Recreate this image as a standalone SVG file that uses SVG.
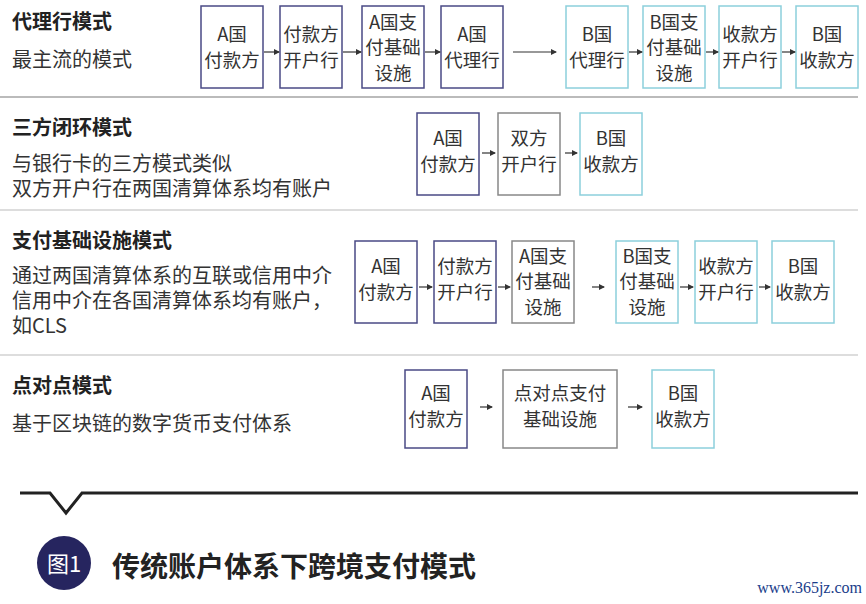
<svg xmlns="http://www.w3.org/2000/svg" width="866" height="604" viewBox="0 0 866 604">
<defs>
<marker id="ah" markerWidth="6" markerHeight="6" refX="5" refY="3" orient="auto" markerUnits="userSpaceOnUse"><path d="M0,0 L6,3 L0,6 z" fill="#333"/></marker>
<style>
text{font-family:"Noto Sans CJK SC","Liberation Sans",sans-serif;fill:#333}
.t{font-size:20px;font-weight:bold;fill:#222}
.s{font-size:20px}
.b{font-size:18.5px;text-anchor:middle}
rect{fill:#fff;stroke-width:1.5}
.p{stroke:#4a4a85}.g{stroke:#888}.c{stroke:#8ccfdc}
.sep{stroke:#bbb;stroke-width:2}
.ar{stroke:#333;stroke-width:1.2;marker-end:url(#ah);fill:none}
</style>
</defs>
<rect width="866" height="604" style="fill:#fff;stroke:none"/>
<g id="labels">
<text class="t" x="12" y="29">代理行模式</text>
<text class="s" x="12" y="67">最主流的模式</text>
<text class="t" x="12" y="135">三方闭环模式</text>
<text class="s" x="12" y="171">与银行卡的三方模式类似</text>
<text class="s" x="12" y="196">双方开户行在两国清算体系均有账户</text>
<text class="t" x="12" y="248">支付基础设施模式</text>
<text class="s" x="12" y="283">通过两国清算体系的互联或信用中介</text>
<text class="s" x="12" y="308">信用中介在各国清算体系均有账户，</text>
<text class="s" x="12" y="333">如CLS</text>
<text class="t" x="12" y="393">点对点模式</text>
<text class="s" x="12" y="431">基于区块链的数字货币支付体系</text>
</g>
<g id="separators">
<line class="sep" x1="0" y1="97" x2="858" y2="97"/>
<line class="sep" x1="0" y1="210" x2="858" y2="210" style="stroke:#ddd"/>
<line class="sep" x1="0" y1="355" x2="858" y2="355" style="stroke:#ddd"/>
</g>
<g id="r1a1"><rect class="p" x="201" y="6" width="62" height="82"/><text class="b" x="232" y="41">A国</text><text class="b" x="232" y="67">付款方</text></g>
<g id="r1a2"><rect class="p" x="280" y="6" width="62" height="82"/><text class="b" x="311" y="41">付款方</text><text class="b" x="311" y="67">开户行</text></g>
<g id="r1a3"><rect class="p" x="362" y="6" width="62" height="82"/><text class="b" x="393" y="29">A国支</text><text class="b" x="393" y="54">付基础</text><text class="b" x="393" y="80">设施</text></g>
<g id="r1a4"><rect class="p" x="441" y="6" width="62" height="82"/><text class="b" x="472" y="41">A国</text><text class="b" x="472" y="67">代理行</text></g>
<g id="r1b1"><rect class="c" x="566" y="6" width="62" height="82"/><text class="b" x="597" y="41">B国</text><text class="b" x="597" y="67">代理行</text></g>
<g id="r1b2"><rect class="c" x="643" y="6" width="62" height="82"/><text class="b" x="674" y="29">B国支</text><text class="b" x="674" y="54">付基础</text><text class="b" x="674" y="80">设施</text></g>
<g id="r1b3"><rect class="c" x="719" y="6" width="62" height="82"/><text class="b" x="750" y="41">收款方</text><text class="b" x="750" y="67">开户行</text></g>
<g id="r1b4"><rect class="c" x="796" y="6" width="62" height="82"/><text class="b" x="827" y="41">B国</text><text class="b" x="827" y="67">收款方</text></g>
<g id="r2a"><rect class="p" x="417" y="113" width="62" height="82"/><text class="b" x="448" y="145">A国</text><text class="b" x="448" y="171">付款方</text></g>
<g id="r2b"><rect class="g" x="498" y="113" width="62" height="82"/><text class="b" x="529" y="145">双方</text><text class="b" x="529" y="171">开户行</text></g>
<g id="r2c"><rect class="c" x="580" y="113" width="62" height="82"/><text class="b" x="611" y="145">B国</text><text class="b" x="611" y="171">收款方</text></g>
<g id="r3a"><rect class="p" x="355" y="241" width="62" height="82"/><text class="b" x="386" y="273">A国</text><text class="b" x="386" y="299">付款方</text></g>
<g id="r3b"><rect class="p" x="434" y="241" width="62" height="82"/><text class="b" x="465" y="273">付款方</text><text class="b" x="465" y="299">开户行</text></g>
<g id="r3c"><rect class="g" x="512" y="241" width="62" height="82"/><text class="b" x="543" y="263">A国支</text><text class="b" x="543" y="288">付基础</text><text class="b" x="543" y="314">设施</text></g>
<g id="r3d"><rect class="c" x="616" y="241" width="62" height="82"/><text class="b" x="647" y="263">B国支</text><text class="b" x="647" y="288">付基础</text><text class="b" x="647" y="314">设施</text></g>
<g id="r3e"><rect class="c" x="695" y="241" width="62" height="82"/><text class="b" x="726" y="273">收款方</text><text class="b" x="726" y="299">开户行</text></g>
<g id="r3f"><rect class="c" x="772" y="241" width="62" height="82"/><text class="b" x="803" y="273">B国</text><text class="b" x="803" y="299">收款方</text></g>
<g id="r4a"><rect class="p" x="405" y="370" width="62" height="78"/><text class="b" x="436" y="400">A国</text><text class="b" x="436" y="426">付款方</text></g>
<g id="r4b"><rect class="g" x="503" y="370" width="114" height="78"/><text class="b" x="560" y="400">点对点支付</text><text class="b" x="560" y="426">基础设施</text></g>
<g id="r4c"><rect class="c" x="652" y="370" width="62" height="78"/><text class="b" x="683" y="400">B国</text><text class="b" x="683" y="426">收款方</text></g>
<g id="connectors">
<line class="ar" x1="264" y1="52" x2="279" y2="52"/>
<line class="ar" x1="343" y1="52" x2="361" y2="52"/>
<line class="ar" x1="425" y1="52" x2="440" y2="52"/>
<line class="ar" x1="513" y1="52" x2="556" y2="52"/>
<line class="ar" x1="629" y1="52" x2="642" y2="52"/>
<line class="ar" x1="706" y1="52" x2="718" y2="52"/>
<line class="ar" x1="782" y1="52" x2="795" y2="52"/>
<line class="ar" x1="482" y1="153" x2="495" y2="153"/>
<line class="ar" x1="565" y1="153" x2="577" y2="153"/>
<line class="ar" x1="419" y1="287" x2="432" y2="287"/>
<line class="ar" x1="498" y1="287" x2="510" y2="287"/>
<line class="ar" x1="592" y1="287" x2="604" y2="287"/>
<line class="ar" x1="680" y1="287" x2="693" y2="287"/>
<line class="ar" x1="759" y1="287" x2="770" y2="287"/>
<line class="ar" x1="480" y1="407" x2="492" y2="407"/>
<line class="ar" x1="628" y1="407" x2="642" y2="407"/>
</g>
<g id="footer">
<path d="M20,493 L50,493 L66,513 L82,493 L858,493" fill="none" stroke="#222" stroke-width="3"/>
<circle cx="64" cy="563" r="27" fill="#26255f"/>
<text x="64" y="572" style="font-size:22px;fill:#fff;text-anchor:middle">图1</text>
<text x="112" y="577" style="font-size:28px;font-weight:bold;fill:#222">传统账户体系下跨境支付模式</text>
<text x="862" y="593" style="font-family:'Liberation Serif',serif;font-size:16px;fill:#1a3d8a;text-anchor:end">www.365jz.com</text>
</g>
</svg>
